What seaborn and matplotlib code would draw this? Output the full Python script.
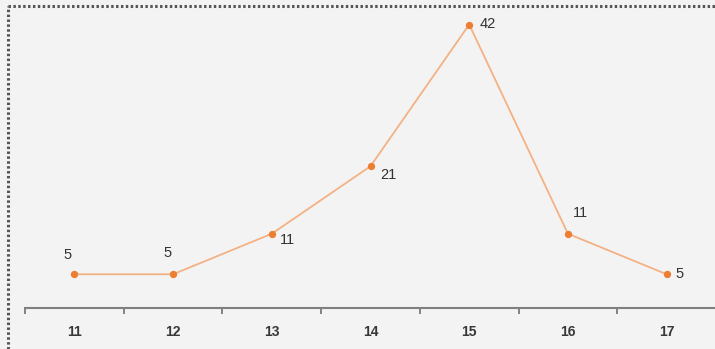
import matplotlib
matplotlib.use("Agg")
import matplotlib.pyplot as plt
import seaborn as sns
import pandas as pd
from matplotlib.lines import Line2D

categories = ["11", "12", "13", "14", "15", "16", "17"]
values = [5, 5, 11, 21, 42, 11, 5]
# label offsets in pixels (dx, dy) relative to each point
label_offsets = [(-7, 19), (-6, 21), (16, -6), (18, -9), (19, 1), (13, 21), (13, 0)]

sns.set_theme(style="white")
plt.rcParams['font.family'] = ['Liberation Sans', 'DejaVu Sans']

bg = "#f3f3f3"
fig = plt.figure(figsize=(7.15, 3.49), dpi=100, facecolor=bg)
ax = fig.add_axes([25/715, 41/349, 691/715, 297/349])
ax.set_facecolor(bg)

df = pd.DataFrame({"cat": categories, "val": values})
df["x"] = range(len(categories))
sns.lineplot(data=df, x="x", y="val", ax=ax, color="#f4b183", linewidth=1.3,
             marker="o", markersize=4.5, markerfacecolor="#ed7d31",
             markeredgecolor="#ed7d31")

for i, (v, (dx, dy)) in enumerate(zip(values, label_offsets)):
    ax.annotate(str(v), (i, v), xytext=(dx, dy), textcoords="offset pixels",
                ha="center", va="center", fontsize=10.5, color="#333333")

ax.set_xlim(-0.5, len(categories) - 0.5)
ax.set_ylim(0, 44)
ax.set_xticks(range(len(categories)))
ax.set_xticklabels(categories, fontsize=10, color="#383838", fontweight="bold")
ax.set_xticks([i - 0.5 for i in range(len(categories) + 1)], minor=True)
ax.tick_params(axis="x", which="major", length=0, pad=12)
ax.tick_params(axis="x", which="minor", length=4, width=1.2, color="#707070",
               direction="out", bottom=True)
ax.set_yticks([])
ax.set_xlabel("")
ax.set_ylabel("")
for s in ["top", "right", "left"]:
    ax.spines[s].set_visible(False)
ax.spines["bottom"].set_color("#808080")
ax.spines["bottom"].set_linewidth(1.5)

# dotted frame on left and top
fig.add_artist(Line2D([8/715, 8/715], [0, 1 - 6/349], transform=fig.transFigure,
                      color="#555555", linewidth=2.2, linestyle=(0, (0.8, 0.8))))
fig.add_artist(Line2D([8/715, 1], [1 - 6/349, 1 - 6/349], transform=fig.transFigure,
                      color="#555555", linewidth=2.2, linestyle=(0, (0.8, 0.8))))

fig.savefig("out.png", dpi=100, facecolor=bg)
